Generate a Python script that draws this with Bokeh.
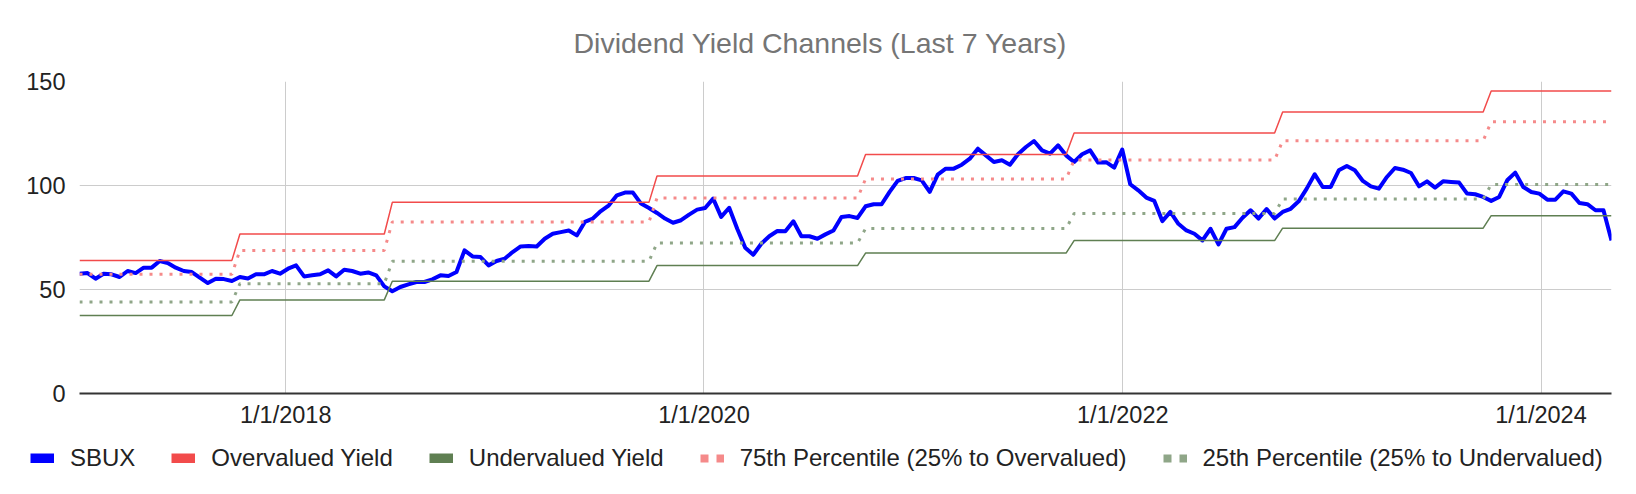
import numpy as np
import pandas as pd
from bokeh.plotting import figure
from bokeh.layouts import column
from bokeh.models import Range1d, FixedTicker, Legend, LegendItem, ColumnDataSource
from bokeh.embed import file_html
from bokeh.resources import INLINE

# ---------------- data ----------------
start_date = "2017-01-06"          # first bi-weekly observation
sbux = [
    57.6, 57.9, 55.2, 57.6, 57.3, 56.0, 58.9, 57.9, 60.5, 60.5,
    63.7, 62.7, 60.5, 58.9, 58.4, 55.7, 53.1, 55.2, 55.0, 54.1,
    56.0, 55.3, 57.3, 57.3, 58.9, 57.6, 60.0, 61.6, 56.3, 56.8,
    57.3, 59.2, 56.3, 59.5, 58.9, 57.6, 58.2, 56.8, 51.5, 49.2,
    51.2, 52.5, 53.6, 53.6, 54.9, 56.8, 56.5, 58.4, 68.8, 65.9,
    65.6, 61.6, 63.7, 64.8, 68.0, 70.7, 70.9, 70.7, 74.4, 76.8,
    77.6, 78.4, 76.0, 82.5, 84.1, 87.7, 90.5, 95.3, 96.6, 96.6,
    91.3, 89.2, 86.8, 84.1, 82.1, 83.3, 86.0, 88.4, 89.2,
    93.7, 84.9, 89.3, 79.2, 70.1, 66.7, 72.0, 75.6, 78.1, 78.0,
    82.8, 75.6, 75.6, 74.4, 76.5, 78.4, 84.9, 85.3, 84.4, 90.0,
    91.0, 91.0, 96.9, 102.2, 103.6, 103.6, 102.5, 96.9, 105.2, 108.1,
    108.1, 110.0, 112.9, 117.7, 114.5, 111.3, 112.1, 110.0,
    115.0, 118.5, 121.4, 116.9, 115.3, 119.3, 114.5, 111.3, 115.0, 116.9,
    111.0, 111.2, 108.6, 117.3, 100.6, 97.7, 94.2, 92.6, 82.9, 87.3,
    81.6, 78.4, 76.8, 73.6, 79.2, 71.7, 79.2, 80.0, 84.5, 88.1,
    84.1, 88.7, 84.1, 87.3, 88.8, 92.4, 98.5, 105.4, 99.3,
    99.3, 107.3, 109.4, 107.3, 102.2, 99.6, 98.5, 104.1, 108.4, 107.6,
    106.0, 99.6, 102.0, 99.0, 102.0, 101.7, 101.4, 96.1, 95.8, 94.5,
    92.6, 94.5, 102.5, 106.2, 99.3, 96.9, 96.1, 93.2, 93.2, 97.2,
    96.1, 91.6, 91.0, 88.1, 88.1, 73.6,
]
change_dates = ["2017-10-13", "2018-07-06", "2019-10-11", "2020-10-09",
                "2021-10-08", "2022-10-07", "2023-10-06"]
overvalued_levels = [64.0, 76.7, 91.9, 104.6, 114.9, 125.2, 135.3, 145.4]
undervalued_levels = [37.5, 45.0, 54.0, 61.5, 67.5, 73.5, 79.5, 85.5]
p75_levels = [57.3, 68.8, 82.5, 94.0, 103.1, 112.2, 121.5, 130.6]
p25_levels = [44.0, 52.8, 63.6, 72.3, 79.3, 86.5, 93.5, 100.5]
tick_dates = ["2018-01-01", "2020-01-01", "2022-01-01", "2024-01-01"]
tick_labels = ["1/1/2018", "1/1/2020", "1/1/2022", "1/1/2024"]
y_ticks = [0, 50, 100, 150]
series_names = ["SBUX", "Overvalued Yield", "Undervalued Yield",
                "75th Percentile (25% to Overvalued)",
                "25th Percentile (25% to Undervalued)"]

# ---------------- build table ----------------
dates = pd.date_range(start_date, periods=len(sbux), freq="14D")
lvl = np.searchsorted(pd.to_datetime(change_dates).values, dates.values, side="right")
src = ColumnDataSource(dict(
    date=dates,
    sbux=sbux,
    over=np.array(overvalued_levels)[lvl],
    under=np.array(undervalued_levels)[lvl],
    p75=np.array(p75_levels)[lvl],
    p25=np.array(p25_levels)[lvl],
))

FONT = "Liberation Sans"
p = figure(width=1636, height=436, x_axis_type="datetime",
           output_backend="svg", toolbar_location=None,
           x_range=Range1d(dates[0], dates[-1]), y_range=Range1d(0, 150),
           min_border_left=79, min_border_right=25,
           min_border_top=81, min_border_bottom=43)
p.frame_align = False
p.outline_line_color = None
p.background_fill_color = "white"
p.border_fill_color = "white"

# title
p.title.text = "Dividend Yield Channels (Last 7 Years)"
p.title.text_font = FONT
p.title.text_font_size = "28.5px"
p.title.text_font_style = "normal"
p.title.text_color = "#757575"
p.title.align = "left"
p.title.offset = 494
p.title.standoff = 46

# axes
tick_ms = [int(pd.Timestamp(d).value // 10**6) for d in tick_dates]
p.xaxis.ticker = FixedTicker(ticks=tick_ms)
p.xaxis.major_label_overrides = {t: l for t, l in zip(tick_ms, tick_labels)}
p.xgrid.ticker = FixedTicker(ticks=tick_ms)
p.yaxis.ticker = FixedTicker(ticks=y_ticks)
p.ygrid.ticker = FixedTicker(ticks=y_ticks)
for ax in (p.xaxis[0], p.yaxis[0]):
    ax.major_tick_line_color = None
    ax.minor_tick_line_color = None
    ax.major_label_text_font = FONT
    ax.major_label_text_font_size = "23.5px"
    ax.major_label_text_color = "#222222"
p.yaxis.axis_line_color = None
p.yaxis.major_label_standoff = 8
p.xaxis.axis_line_color = "#333333"
p.xaxis.axis_line_width = 2
p.xaxis.major_label_standoff = 2
p.grid.grid_line_color = "#cccccc"
p.grid.grid_line_width = 1

# series
c_sbux, c_over, c_under, c_p75, c_p25 = "#0000ff", "#f24b4b", "#5f7f52", "#f58a8a", "#8fa688"
p.line("date", "sbux", source=src, line_color=c_sbux, line_width=4, line_join="round")
p.line("date", "over", source=src, line_color=c_over, line_width=1.5)
p.line("date", "under", source=src, line_color=c_under, line_width=1.5)
p.line("date", "p75", source=src, line_color=c_p75, line_width=3, line_dash="3 7")
p.line("date", "p25", source=src, line_color=c_p25, line_width=3, line_dash="3 7")

# ---------------- legend strip (separate figure below the chart) ----------------
lg = figure(width=1636, height=58, output_backend="svg", toolbar_location=None,
            x_range=Range1d(0, 1), y_range=Range1d(0, 1),
            x_axis_location=None, y_axis_location=None,
            min_border_left=0, min_border_right=0, min_border_top=0, min_border_bottom=0)
lg.frame_align = False
lg.outline_line_color = None
lg.grid.visible = False
lg.background_fill_color = "white"
lg.border_fill_color = "white"

dummy = ColumnDataSource(dict(x=[0, 0], y=[np.nan, np.nan]))
leg_r = [
    lg.line("x", "y", source=dummy, line_color=c_sbux, line_width=10),
    lg.line("x", "y", source=dummy, line_color=c_over, line_width=10),
    lg.line("x", "y", source=dummy, line_color=c_under, line_width=10),
    lg.line("x", "y", source=dummy, line_color=c_p75, line_width=8, line_dash="8 8"),
    lg.line("x", "y", source=dummy, line_color=c_p25, line_width=8, line_dash="8 8"),
]
legend = Legend(items=[LegendItem(label=n, renderers=[r]) for n, r in zip(series_names, leg_r)],
                orientation="horizontal", location=(30, 22),
                ncols=5, nrows=1,
                glyph_width=24, glyph_height=10, label_standoff=16, spacing=36,
                padding=5, margin=0,
                label_text_font=FONT, label_text_font_size="24px",
                label_text_color="#222222",
                border_line_color=None, background_fill_alpha=0)
lg.add_layout(legend)

page = column(p, lg, spacing=0)
open("out.html", "w").write(file_html(page, INLINE))
